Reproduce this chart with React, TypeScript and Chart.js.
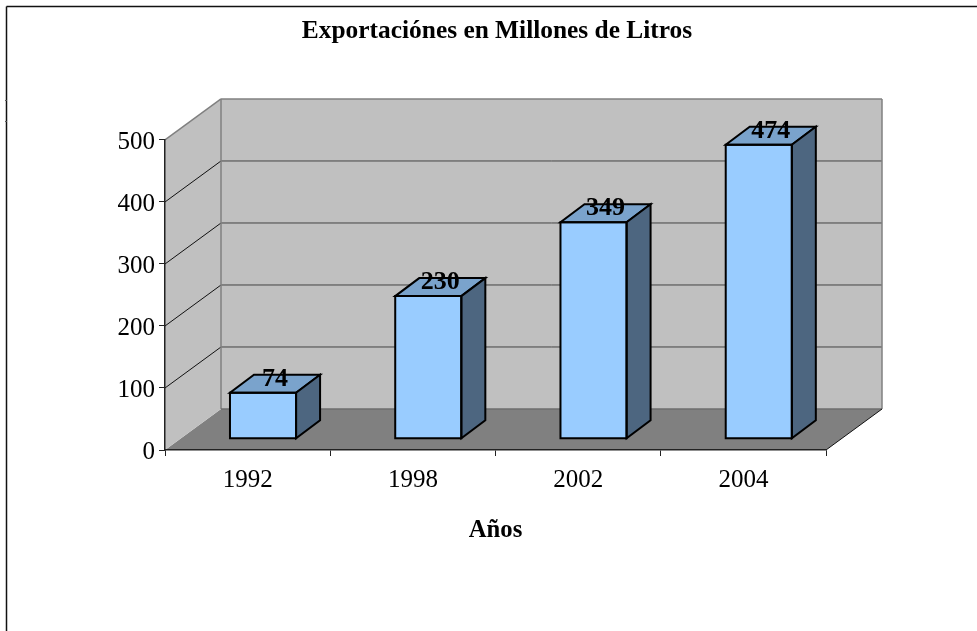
import React, { useEffect, useRef } from "react";
import { Chart, registerables } from "chart.js";

Chart.register(...registerables);

const categories = ["1992", "1998", "2002", "2004"];
const exportsMl = [74, 230, 349, 474];
const yTicks = [0, 100, 200, 300, 400, 500];
const chartTitle = "Exportaciónes en Millones de Litros";
const xTitle = "Años";

const FONT = "'Liberation Serif', 'Times New Roman', serif";
const WALL_DX = 56;
const WALL_DY = 41;
const BAR_DX = 15.4;
const BAR_DY = 11.3;
const DEPTH_DX = 24;
const DEPTH_DY = 18;

function poly(ctx: CanvasRenderingContext2D, pts: number[][], fill: string | null, stroke: string | null, lw = 1) {
  ctx.beginPath();
  pts.forEach((p, i) => (i ? ctx.lineTo(p[0], p[1]) : ctx.moveTo(p[0], p[1])));
  ctx.closePath();
  if (fill) {
    ctx.fillStyle = fill;
    ctx.fill();
  }
  if (stroke) {
    ctx.strokeStyle = stroke;
    ctx.lineWidth = lw;
    ctx.lineJoin = "miter";
    ctx.stroke();
  }
}

function line(ctx: CanvasRenderingContext2D, x1: number, y1: number, x2: number, y2: number, color: string, lw = 1) {
  ctx.beginPath();
  ctx.moveTo(x1, y1);
  ctx.lineTo(x2, y2);
  ctx.strokeStyle = color;
  ctx.lineWidth = lw;
  ctx.stroke();
}

const scene3d = {
  id: "scene3d",
  beforeDraw(chart: any) {
    const { ctx, chartArea: a, scales } = chart;
    ctx.save();
    // outer frame
    line(ctx, 6.5, 6.5, chart.width, 6.5, "#111", 1.5);
    line(ctx, 6.5, 6.5, 6.5, chart.height, "#111", 1.5);
    line(ctx, 5, 100.5, 7, 100.5, "#555", 1);
    line(ctx, 5, 121.5, 7, 121.5, "#555", 1);
    const L = a.left, R = a.right, T = a.top, B = a.bottom;
    // floor
    poly(ctx, [[L, B], [R, B], [R + WALL_DX, B - WALL_DY], [L + WALL_DX, B - WALL_DY]], "#808080", null);
    // side wall + back wall
    poly(ctx, [[L, T], [L + WALL_DX, T - WALL_DY], [L + WALL_DX, B - WALL_DY], [L, B]], "#C0C0C0", null);
    poly(ctx, [[L + WALL_DX, T - WALL_DY], [R + WALL_DX, T - WALL_DY], [R + WALL_DX, B - WALL_DY], [L + WALL_DX, B - WALL_DY]], "#C0C0C0", null);
    // gridlines from the value scale
    for (const v of yTicks) {
      if (v === 0 || v === 500) continue;
      const y = scales.y.getPixelForValue(v);
      line(ctx, L, y, L + WALL_DX, y - WALL_DY, "#111", 1);
      line(ctx, L + WALL_DX, y - WALL_DY, R + WALL_DX, y - WALL_DY, "#444", 1);
    }
    // wall edges
    line(ctx, L, T, L + WALL_DX, T - WALL_DY, "#808080", 1.5);
    line(ctx, L + WALL_DX, T - WALL_DY, R + WALL_DX, T - WALL_DY, "#808080", 1.5);
    line(ctx, L + WALL_DX, T - WALL_DY, L + WALL_DX, B - WALL_DY, "#808080", 1.5);
    line(ctx, R + WALL_DX, T - WALL_DY, R + WALL_DX, B - WALL_DY, "#808080", 1.5);
    line(ctx, L + WALL_DX, B - WALL_DY, R + WALL_DX, B - WALL_DY, "#6e6e6e", 1.5);
    line(ctx, R, B, R + WALL_DX, B - WALL_DY, "#111", 1);
    ctx.restore();
  },
  beforeDatasetDraw(chart: any) {
    chart.ctx.save();
    chart.ctx.translate(BAR_DX, -BAR_DY);
  },
  afterDatasetDraw(chart: any, args: any) {
    const { ctx } = chart;
    const meta = chart.getDatasetMeta(args.index);
    meta.data.forEach((bar: any, i: number) => {
      const p = bar.getProps(["x", "y", "base", "width"], true);
      const x0 = p.x - p.width / 2;
      const x1 = p.x + p.width / 2;
      poly(ctx, [[x0, p.y], [x1, p.y], [x1 + DEPTH_DX, p.y - DEPTH_DY], [x0 + DEPTH_DX, p.y - DEPTH_DY]], "#7AA3CC", "#000", 2);
      poly(ctx, [[x1, p.y], [x1 + DEPTH_DX, p.y - DEPTH_DY], [x1 + DEPTH_DX, p.base - DEPTH_DY], [x1, p.base]], "#4D6680", "#000", 2);
      poly(ctx, [[x0, p.y], [x1, p.y], [x1, p.base], [x0, p.base]], null, "#000", 2);
      ctx.fillStyle = "#000";
      ctx.font = `bold 26px ${FONT}`;
      ctx.textAlign = "center";
      ctx.textBaseline = "alphabetic";
      ctx.fillText(String(exportsMl[i]), p.x + DEPTH_DX / 2, p.y - 7);
    });
    ctx.restore();
  },
};

export default function App() {
  const ref = useRef<HTMLCanvasElement>(null);
  useEffect(() => {
    const chart = new Chart(ref.current as HTMLCanvasElement, {
      type: "bar",
      data: {
        labels: categories,
        datasets: [
          {
            data: exportsMl,
            backgroundColor: "#99CCFF",
            borderWidth: 0,
            barPercentage: 0.4,
            categoryPercentage: 1,
            clip: false,
          } as any,
        ],
      },
      plugins: [scene3d],
      options: {
        responsive: false,
        animation: false,
        layout: { padding: { left: 17, right: 0, top: 0, bottom: 0 } },
        plugins: {
          legend: { display: false },
          tooltip: { enabled: false },
          title: {
            display: true,
            text: chartTitle,
            color: "#000",
            font: { family: FONT, size: 25.4, weight: "bold", lineHeight: 1.2 },
            padding: { top: 16, bottom: 93.5 },
          },
        },
        scales: {
          x: {
            type: "category",
            afterFit: (s: any) => {
              s.height = 181;
            },
            grid: { drawOnChartArea: false, drawTicks: true, tickLength: 6, color: "#222" },
            border: { display: true, color: "#222", width: 1.5 },
            ticks: { color: "#000", font: { family: FONT, size: 25 }, padding: 9, maxRotation: 0, autoSkip: false },
            title: {
              display: true,
              text: xTitle,
              color: "#000",
              font: { family: FONT, size: 24.7, weight: "bold", lineHeight: 1.2 },
              padding: { top: 0, bottom: 86 },
            },
          },
          y: {
            type: "linear",
            min: 0,
            max: 500,
            afterFit: (s: any) => {
              s.width = 148;
            },
            afterBuildTicks: (s: any) => {
              s.ticks = yTicks.map((value) => ({ value }));
            },
            grid: { drawOnChartArea: false, drawTicks: true, tickLength: 6, color: "#222" },
            border: { display: true, color: "#222", width: 1.5 },
            ticks: { color: "#000", font: { family: FONT, size: 25 }, padding: 4, labelOffset: 2 },
          },
          y2: {
            type: "linear",
            position: "right",
            afterFit: (s: any) => {
              s.width = 151;
            },
            grid: { display: false },
            border: { display: false },
            ticks: { display: false },
          },
        },
      } as any,
    });
    return () => chart.destroy();
  }, []);
  return (
    <div style={{ position: "absolute", left: 0, top: 0, width: 977, height: 631, background: "#fff" }}>
      <canvas ref={ref} width={977} height={631} style={{ display: "block" }} />
    </div>
  );
}
